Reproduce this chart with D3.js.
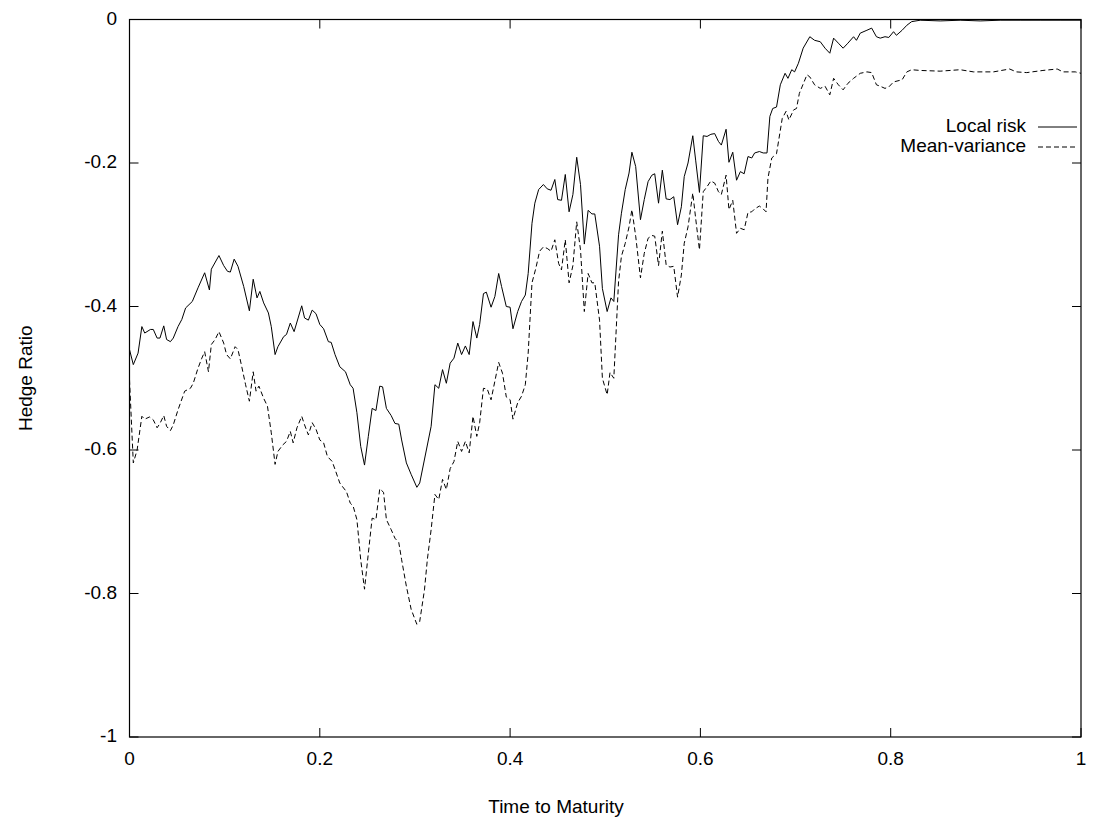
<!DOCTYPE html>
<html>
<head>
<meta charset="utf-8">
<script src="https://cdn.jsdelivr.net/npm/d3@7"></script>
<style>
  html, body { margin: 0; padding: 0; background: #fff; }
  svg { display: block; }
  text { font-family: "Liberation Sans", Arial, Helvetica, sans-serif; fill: #000; }
</style>
</head>
<body>
<svg id="chart" width="1093" height="820"></svg>
<script>
// Hedge ratio paths over time to maturity
const localT = [0.000,0.004,0.009,0.013,0.016,0.022,0.025,0.029,0.032,0.036,0.039,0.043,0.046,0.051,0.055,0.059,0.066,0.072,0.079,0.084,0.086,0.094,0.099,0.103,0.106,0.110,0.114,0.120,0.126,0.130,0.134,0.137,0.141,0.146,0.149,0.153,0.156,0.162,0.165,0.169,0.173,0.181,0.184,0.188,0.192,0.196,0.200,0.204,0.209,0.212,0.216,0.221,0.227,0.232,0.235,0.239,0.243,0.247,0.251,0.255,0.259,0.263,0.266,0.270,0.275,0.279,0.283,0.286,0.291,0.296,0.302,0.305,0.312,0.317,0.321,0.325,0.329,0.333,0.337,0.341,0.345,0.349,0.353,0.357,0.361,0.365,0.368,0.372,0.375,0.380,0.384,0.388,0.391,0.396,0.400,0.403,0.408,0.412,0.416,0.419,0.423,0.426,0.430,0.435,0.439,0.443,0.447,0.450,0.454,0.458,0.462,0.466,0.470,0.474,0.478,0.482,0.486,0.489,0.494,0.497,0.502,0.506,0.509,0.514,0.517,0.521,0.525,0.528,0.532,0.537,0.541,0.545,0.549,0.552,0.556,0.560,0.564,0.568,0.572,0.576,0.580,0.583,0.587,0.592,0.595,0.599,0.603,0.607,0.611,0.615,0.619,0.622,0.627,0.630,0.634,0.638,0.642,0.646,0.650,0.654,0.657,0.662,0.666,0.670,0.673,0.676,0.680,0.684,0.689,0.692,0.696,0.699,0.703,0.708,0.715,0.720,0.726,0.731,0.736,0.740,0.745,0.750,0.755,0.761,0.764,0.768,0.775,0.780,0.785,0.789,0.794,0.798,0.803,0.806,0.812,0.817,0.822,0.831,0.852,0.873,0.894,0.915,0.936,0.957,0.978,1.000];
const localRisk = [-0.460,-0.481,-0.465,-0.428,-0.437,-0.432,-0.432,-0.444,-0.444,-0.427,-0.446,-0.449,-0.444,-0.428,-0.418,-0.402,-0.393,-0.374,-0.353,-0.377,-0.348,-0.329,-0.343,-0.351,-0.352,-0.334,-0.344,-0.372,-0.406,-0.362,-0.388,-0.379,-0.395,-0.409,-0.428,-0.467,-0.456,-0.442,-0.439,-0.423,-0.435,-0.399,-0.416,-0.419,-0.405,-0.410,-0.425,-0.431,-0.449,-0.450,-0.467,-0.484,-0.491,-0.509,-0.514,-0.548,-0.595,-0.621,-0.581,-0.542,-0.545,-0.511,-0.512,-0.542,-0.552,-0.563,-0.564,-0.586,-0.618,-0.634,-0.652,-0.646,-0.600,-0.567,-0.509,-0.514,-0.488,-0.507,-0.479,-0.472,-0.451,-0.467,-0.455,-0.467,-0.421,-0.444,-0.425,-0.382,-0.380,-0.401,-0.386,-0.354,-0.372,-0.400,-0.401,-0.431,-0.407,-0.393,-0.384,-0.354,-0.284,-0.256,-0.237,-0.230,-0.236,-0.238,-0.223,-0.251,-0.252,-0.216,-0.268,-0.244,-0.192,-0.230,-0.313,-0.266,-0.271,-0.271,-0.316,-0.375,-0.407,-0.388,-0.393,-0.300,-0.270,-0.237,-0.214,-0.185,-0.205,-0.279,-0.251,-0.226,-0.217,-0.215,-0.256,-0.210,-0.250,-0.251,-0.247,-0.286,-0.261,-0.219,-0.200,-0.162,-0.196,-0.241,-0.162,-0.163,-0.160,-0.159,-0.170,-0.175,-0.153,-0.199,-0.185,-0.224,-0.212,-0.215,-0.191,-0.193,-0.186,-0.184,-0.186,-0.186,-0.135,-0.124,-0.122,-0.091,-0.075,-0.082,-0.070,-0.073,-0.061,-0.040,-0.024,-0.029,-0.031,-0.040,-0.047,-0.026,-0.033,-0.040,-0.033,-0.024,-0.029,-0.019,-0.015,-0.012,-0.024,-0.026,-0.024,-0.025,-0.017,-0.022,-0.015,-0.008,-0.003,-0.001,-0.002,-0.001,-0.002,-0.001,-0.001,-0.001,-0.001,-0.001];

const meanT = [0.000,0.004,0.008,0.013,0.016,0.021,0.025,0.029,0.032,0.036,0.039,0.043,0.046,0.051,0.058,0.064,0.067,0.072,0.076,0.079,0.083,0.086,0.090,0.094,0.099,0.102,0.106,0.111,0.114,0.118,0.122,0.126,0.130,0.133,0.136,0.141,0.145,0.149,0.153,0.156,0.161,0.165,0.169,0.172,0.176,0.181,0.184,0.188,0.192,0.196,0.200,0.204,0.208,0.213,0.216,0.221,0.225,0.228,0.232,0.235,0.239,0.243,0.247,0.251,0.255,0.259,0.263,0.267,0.270,0.275,0.279,0.283,0.286,0.291,0.296,0.302,0.305,0.310,0.313,0.317,0.321,0.325,0.329,0.333,0.337,0.341,0.345,0.349,0.353,0.357,0.361,0.365,0.368,0.372,0.376,0.380,0.384,0.388,0.392,0.396,0.400,0.403,0.408,0.412,0.416,0.419,0.423,0.427,0.431,0.435,0.439,0.443,0.447,0.451,0.454,0.458,0.462,0.466,0.470,0.474,0.478,0.482,0.486,0.489,0.494,0.497,0.502,0.505,0.509,0.514,0.517,0.521,0.525,0.528,0.532,0.537,0.541,0.545,0.549,0.552,0.556,0.560,0.564,0.568,0.572,0.576,0.580,0.583,0.587,0.592,0.595,0.599,0.603,0.607,0.611,0.615,0.619,0.622,0.627,0.630,0.634,0.638,0.642,0.646,0.650,0.654,0.657,0.662,0.666,0.669,0.671,0.675,0.680,0.686,0.690,0.693,0.698,0.701,0.704,0.708,0.712,0.715,0.720,0.726,0.731,0.736,0.740,0.745,0.750,0.755,0.761,0.768,0.775,0.780,0.785,0.789,0.794,0.798,0.803,0.812,0.817,0.822,0.831,0.852,0.873,0.887,0.908,0.925,0.932,0.943,0.960,0.975,0.981,0.994,1.000];
const meanVariance = [-0.502,-0.618,-0.600,-0.553,-0.557,-0.554,-0.558,-0.569,-0.563,-0.552,-0.567,-0.573,-0.565,-0.544,-0.518,-0.514,-0.507,-0.486,-0.472,-0.463,-0.491,-0.453,-0.446,-0.435,-0.451,-0.467,-0.473,-0.456,-0.460,-0.484,-0.509,-0.532,-0.491,-0.518,-0.511,-0.528,-0.539,-0.576,-0.620,-0.602,-0.593,-0.588,-0.574,-0.590,-0.569,-0.553,-0.565,-0.579,-0.562,-0.571,-0.586,-0.590,-0.609,-0.616,-0.627,-0.646,-0.653,-0.658,-0.674,-0.678,-0.697,-0.753,-0.794,-0.744,-0.695,-0.697,-0.654,-0.659,-0.697,-0.711,-0.723,-0.729,-0.753,-0.790,-0.822,-0.843,-0.839,-0.795,-0.753,-0.711,-0.662,-0.669,-0.641,-0.655,-0.626,-0.616,-0.588,-0.602,-0.588,-0.604,-0.553,-0.581,-0.562,-0.514,-0.515,-0.530,-0.504,-0.478,-0.493,-0.526,-0.530,-0.557,-0.534,-0.525,-0.509,-0.465,-0.367,-0.347,-0.323,-0.317,-0.319,-0.323,-0.307,-0.340,-0.349,-0.307,-0.367,-0.343,-0.282,-0.321,-0.407,-0.354,-0.367,-0.367,-0.419,-0.500,-0.523,-0.492,-0.500,-0.365,-0.330,-0.312,-0.289,-0.265,-0.302,-0.360,-0.326,-0.305,-0.301,-0.302,-0.343,-0.295,-0.342,-0.345,-0.344,-0.387,-0.356,-0.312,-0.289,-0.242,-0.277,-0.321,-0.240,-0.233,-0.225,-0.228,-0.240,-0.244,-0.217,-0.265,-0.252,-0.298,-0.291,-0.293,-0.269,-0.268,-0.264,-0.260,-0.264,-0.268,-0.221,-0.193,-0.187,-0.138,-0.128,-0.140,-0.126,-0.124,-0.103,-0.090,-0.077,-0.080,-0.091,-0.096,-0.093,-0.105,-0.082,-0.091,-0.098,-0.089,-0.082,-0.075,-0.073,-0.074,-0.091,-0.093,-0.096,-0.094,-0.087,-0.084,-0.073,-0.070,-0.071,-0.072,-0.070,-0.073,-0.073,-0.069,-0.073,-0.074,-0.071,-0.069,-0.073,-0.073,-0.075];

const xTicks = [0, 0.2, 0.4, 0.6, 0.8, 1];
const yTicks = [0, -0.2, -0.4, -0.6, -0.8, -1];
const seriesNames = ["Local risk", "Mean-variance"];

const svg = d3.select("#chart");
const plotLeft = 129.5, plotRight = 1081, plotTop = 19.5, plotBottom = 737;
const fontSize = 19;

const x = d3.scaleLinear().domain([0, 1]).range([plotLeft, plotRight]);
const y = d3.scaleLinear().domain([-1, 0]).range([plotBottom, plotTop]);

// Inward ticks on all four sides, gnuplot style
const tickLen = 9;
const g = svg.append("g").attr("stroke", "#000").attr("stroke-width", 1);
g.selectAll("line.xb").data(xTicks).join("line").attr("class", "xb")
  .attr("x1", d => x(d)).attr("x2", d => x(d))
  .attr("y1", plotBottom).attr("y2", plotBottom - tickLen);
g.selectAll("line.xt").data(xTicks).join("line").attr("class", "xt")
  .attr("x1", d => x(d)).attr("x2", d => x(d))
  .attr("y1", plotTop).attr("y2", plotTop + tickLen);
g.selectAll("line.yl").data(yTicks).join("line").attr("class", "yl")
  .attr("y1", d => y(d)).attr("y2", d => y(d))
  .attr("x1", plotLeft).attr("x2", plotLeft + tickLen);
g.selectAll("line.yr").data(yTicks).join("line").attr("class", "yr")
  .attr("y1", d => y(d)).attr("y2", d => y(d))
  .attr("x1", plotRight).attr("x2", plotRight - tickLen);

// Tick labels, plain hyphen for the minus sign
const fmt = d => String(d);
svg.selectAll("text.xlab").data(xTicks).join("text").attr("class", "xlab")
  .attr("x", d => x(d)).attr("y", plotBottom + 23)
  .attr("dominant-baseline", "middle").attr("text-anchor", "middle")
  .attr("font-size", fontSize).text(fmt);
svg.selectAll("text.ylab").data(yTicks).join("text").attr("class", "ylab")
  .attr("x", plotLeft - 12.5).attr("y", d => y(d))
  .attr("dominant-baseline", "middle").attr("text-anchor", "end")
  .attr("font-size", fontSize).text(fmt);

// Axis titles
svg.append("text").attr("x", 556).attr("y", 808)
  .attr("text-anchor", "middle").attr("dominant-baseline", "middle")
  .attr("font-size", fontSize).text("Time to Maturity");
svg.append("text").attr("transform", `translate(27,${(plotTop + plotBottom) / 2}) rotate(-90)`)
  .attr("text-anchor", "middle").attr("dominant-baseline", "middle")
  .attr("font-size", fontSize).text("Hedge Ratio");

// Series lines
const line = d3.line().x(d => x(d[0])).y(d => y(d[1]));
const localPts = localT.map((t, i) => [t, localRisk[i]]);
const meanPts = meanT.map((t, i) => [t, meanVariance[i]]);

svg.append("path").datum(localPts).attr("d", line)
  .attr("fill", "none").attr("stroke", "#000").attr("stroke-width", 1);
svg.append("path").datum(meanPts).attr("d", line)
  .attr("fill", "none").attr("stroke", "#000").attr("stroke-width", 1)
  .attr("stroke-dasharray", "5,3");

// Legend
const legendRows = [{ name: seriesNames[0], dash: null, yc: 127 }, { name: seriesNames[1], dash: "5,3", yc: 147 }];
legendRows.forEach(r => {
  svg.append("text").attr("x", 1026).attr("y", r.yc)
    .attr("text-anchor", "end").attr("dominant-baseline", "middle")
    .attr("font-size", fontSize).text(r.name);
  const l = svg.append("line").attr("x1", 1038).attr("x2", 1077)
    .attr("y1", r.yc).attr("y2", r.yc)
    .attr("stroke", "#000").attr("stroke-width", 1);
  if (r.dash) l.attr("stroke-dasharray", r.dash);
});

// Frame
svg.append("rect").attr("x", plotLeft).attr("y", plotTop)
  .attr("width", plotRight - plotLeft).attr("height", plotBottom - plotTop)
  .attr("fill", "none").attr("stroke", "#000").attr("stroke-width", 1.2);
</script>
</body>
</html>
